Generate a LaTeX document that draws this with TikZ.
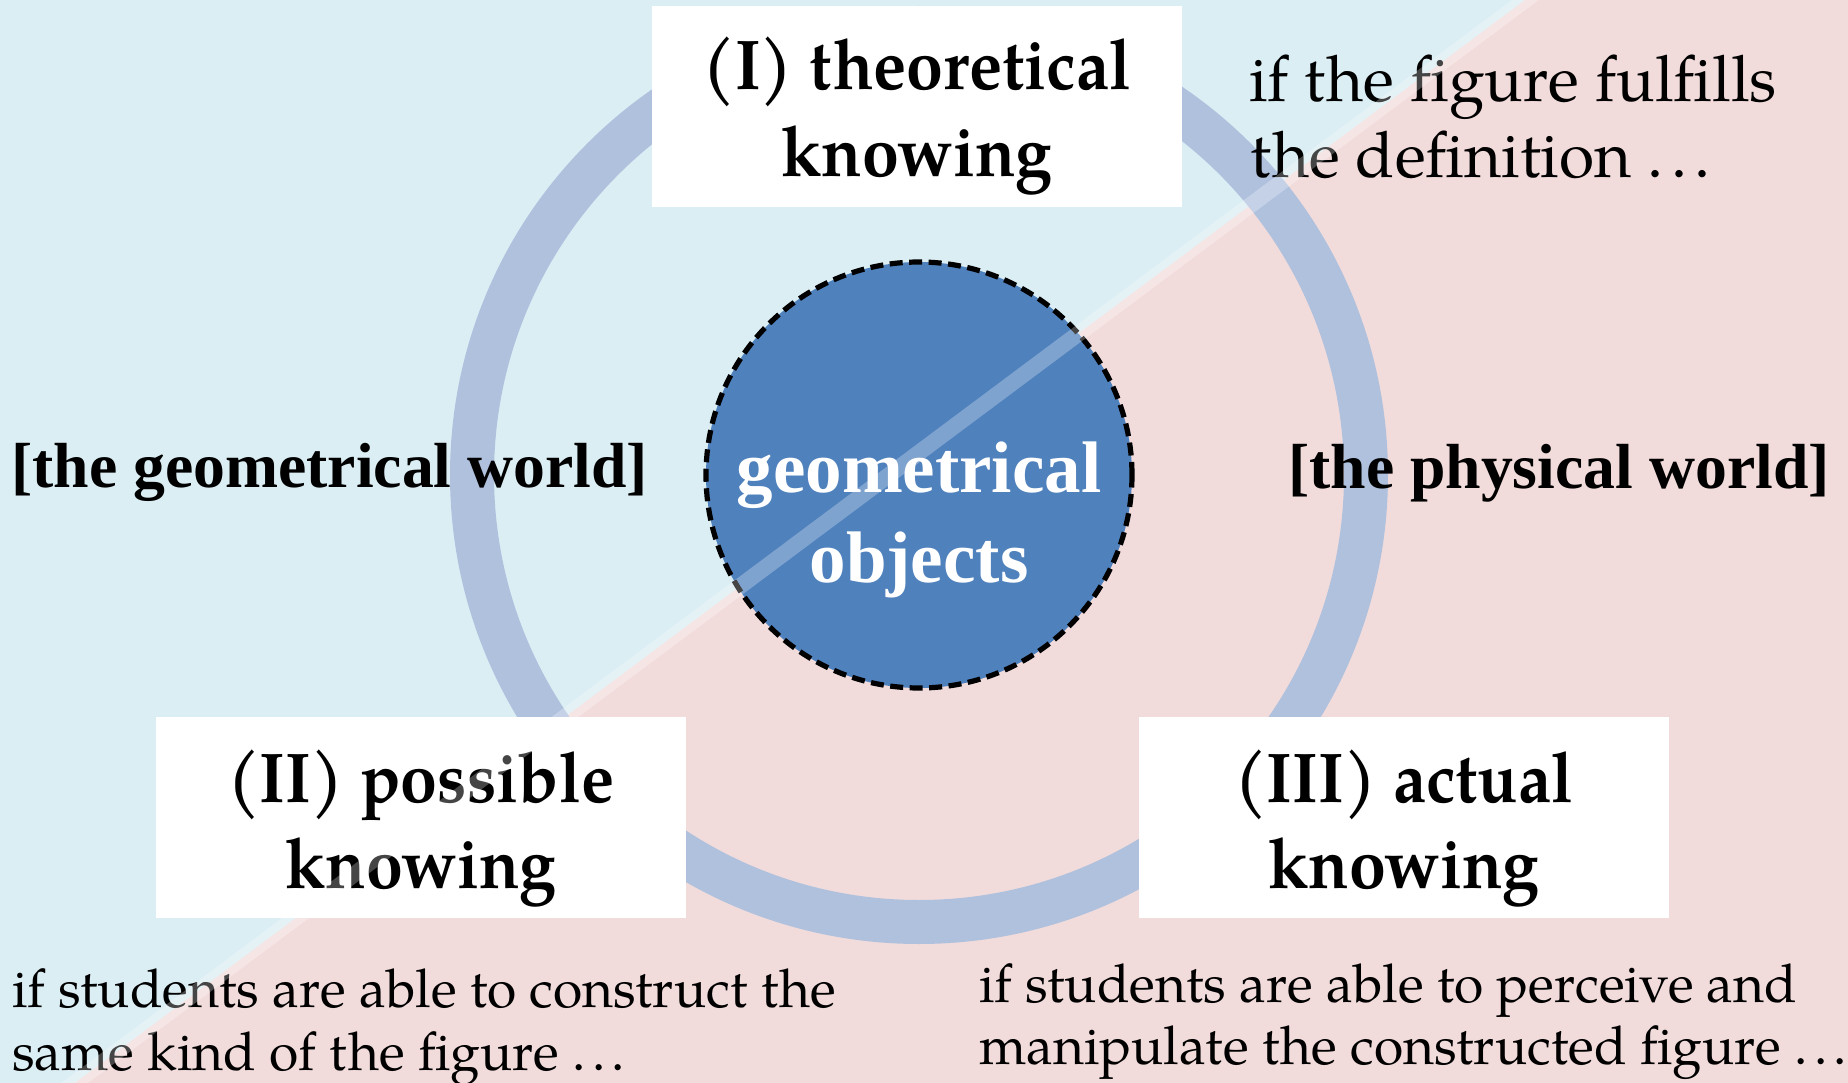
\documentclass[tikz,border=0pt]{standalone}
\usepackage{fontspec}
\newfontfamily\pag{TeX Gyre Pagella}
\newfontfamily\pagn{TeX Gyre Pagella}[FakeStretch=0.94]
\newfontfamily\tnr{Liberation Serif}
\newcommand\spdots{.\kern.12em.\kern.12em.}
\definecolor{bgblue}{HTML}{DBEEF4}
\definecolor{bgpink}{HTML}{F2DCDB}
\definecolor{ringc}{HTML}{AFC1DD}
\definecolor{coreblue}{HTML}{4F81BD}
\tikzset{
  kbox/.style={fill=white, draw=none, inner sep=0pt, minimum width=530pt, minimum height=201pt},
  boxtxt/.style={font=\pagn\bfseries\fontsize{70.5pt}{85pt}\selectfont, inner sep=0pt, anchor=base},
  worldtxt/.style={font=\tnr\bfseries\fontsize{63.7pt}{75pt}\selectfont, inner sep=0pt, anchor=base west},
  coretxt/.style={font=\tnr\bfseries\fontsize{73pt}{88pt}\selectfont, text=white, inner sep=0pt, anchor=base},
  bigcond/.style={font=\pag\fontsize{64pt}{77pt}\selectfont, inner sep=0pt, anchor=base west},
  smallcond/.style={font=\pag\fontsize{53.4pt}{63pt}\selectfont, inner sep=0pt, anchor=base west},
  ringline/.style={draw=ringc, line width=44pt},
  core/.style={circle, fill=coreblue, draw=black, line width=5.2pt, dash pattern=on 13pt off 6.5pt, minimum size=426pt, inner sep=0pt},
  band/.style={draw=white, draw opacity=0.27, line width=16pt},
}
\begin{document}
\begin{tikzpicture}[x=1pt,y=-1pt]
\useasboundingbox (0,0) rectangle (1848,1083);
\clip (0,0) rectangle (1848,1083);
% background
\fill[bgblue] (0,0) rectangle (1848,1083);
\fill[bgpink] (1525,0) -- (1848,0) -- (1848,1083) -- (75,1083) -- cycle;
% ring and core
\coordinate (cen) at (919,475);
\draw[ringline] (cen) circle[radius=447pt];
\node[core] (geo) at (cen) {};
\node[coretxt] (geoa) at (919,492) {geometrical};
\node[coretxt] (geob) at (919,582) {objects};
% boxes
\node[kbox] (bI) at (917,106.5) {};
\node[boxtxt] (bIa) at (917,90) {(I) theoretical};
\node[boxtxt] (bIb) at (917,177) {knowing};
\node[kbox] (bII) at (421,817) {};
\node[boxtxt] (bIIa) at (421,802) {(II) possible};
\node[boxtxt] (bIIb) at (421,888) {knowing};
\node[kbox] (bIII) at (1404,817) {};
\node[boxtxt] (bIIIa) at (1404,802) {(III) actual};
\node[boxtxt] (bIIIb) at (1404,888) {knowing};
% world labels
\node[worldtxt] (gw) at (11,487) {[the geometrical world]};
\node[worldtxt] (pw) at (1288,488) {[the physical world]};
% conditions
\node[bigcond] (c1a) at (1249,102) {if the figure fulfills};
\node[bigcond] (c1b) at (1250,178) {the definition \spdots};
\node[smallcond] (c2a) at (12,1007) {if students are able to construct the};
\node[smallcond] (c2b) at (12,1070) {same kind of the figure \spdots};
\node[smallcond] (c3a) at (979,1002) {if students are able to perceive and};
\node[smallcond] (c3b) at (979,1064) {manipulate the constructed figure \spdots};
% translucent diagonal band
\coordinate (dA) at (1670,-108);
\coordinate (dB) at (-70,1191);
\draw[band] (dA) -- (dB);
\end{tikzpicture}
\end{document}
